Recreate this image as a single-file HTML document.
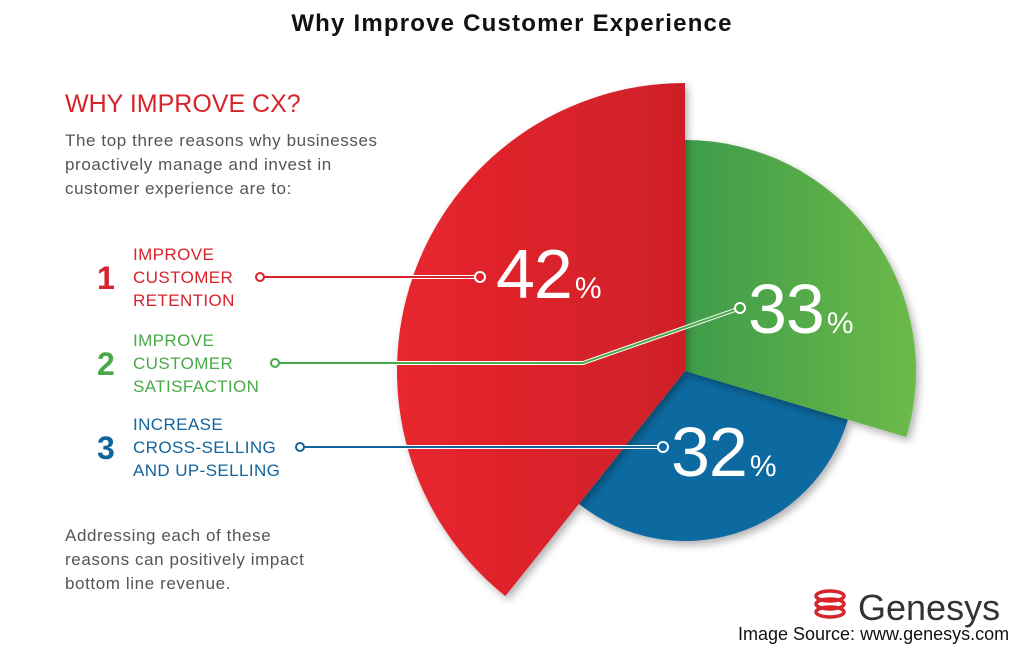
<!DOCTYPE html>
<html><head><meta charset="utf-8"><style>
body{margin:0;width:1024px;height:650px;background:#fff;overflow:hidden;font-family:"Liberation Sans",sans-serif}
</style></head><body>
<svg width="1024" height="650" viewBox="0 0 1024 650" style="position:absolute;left:0;top:0">
<defs>
<linearGradient id="gr" x1="0" x2="1"><stop offset="0" stop-color="#e8262e"/><stop offset="1" stop-color="#cf1f28"/></linearGradient>
<linearGradient id="gg" x1="0" x2="1"><stop offset="0" stop-color="#3e9b48"/><stop offset="1" stop-color="#6cba48"/></linearGradient>
<filter id="sh" x="-20%" y="-20%" width="140%" height="140%"><feDropShadow dx="3" dy="4" stdDeviation="4" flood-opacity="0.3"/></filter>
</defs>
<text x="512" y="31" text-anchor="middle" font-size="24" letter-spacing="1.2" font-weight="bold" fill="#111">Why Improve Customer Experience</text>
<text x="65" y="112" font-size="25" fill="#d7232a">WHY IMPROVE CX?</text>
<g font-size="17" letter-spacing="0.6" fill="#555">
<text x="65" y="146">The top three reasons why businesses</text>
<text x="65" y="170">proactively manage and invest in</text>
<text x="65" y="194">customer experience are to:</text>
</g>
<g font-size="17" letter-spacing="0.6" fill="#555">
<text x="65" y="541">Addressing each of these</text>
<text x="65" y="565">reasons can positively impact</text>
<text x="65" y="589">bottom line revenue.</text>
</g>
<g id="pie"></g>
<g id="labels"></g>
<g>
<g fill="none" stroke="#d7232a" stroke-width="3.5">
<ellipse cx="830" cy="596" rx="14" ry="5"/><ellipse cx="830" cy="604" rx="14" ry="5"/><ellipse cx="830" cy="612" rx="14" ry="5"/>
</g>
<text x="858" y="620" font-size="36" fill="#333">Genesys</text>
</g>
<text x="738" y="640" font-size="18" fill="#111">Image Source: www.genesys.com</text>
</svg>
<script>
const categories=["IMPROVE|CUSTOMER|RETENTION","IMPROVE|CUSTOMER|SATISFACTION","INCREASE|CROSS-SELLING|AND UP-SELLING"];
const values=[42,33,32];
const ranks=["1","2","3"];
const colors=["url(#gr)","url(#gg)","#0f6aa0"];
const lineColors=["#d7232a","#4aa948","#11659c"];
const textColors=["#d7232a","#4aa948","#11659c"];
const cx=685,cy=371;
const geo=[{a0:128.6,a1:270,r:288},{a0:270,a1:376.6,r:231},{a0:16.6,a1:128.6,r:170}];
const ns="http://www.w3.org/2000/svg";
function pt(a,r){const t=a*Math.PI/180;return [cx+r*Math.cos(t),cy+r*Math.sin(t)];}
const pie=document.getElementById('pie');
const order=[2,1,0];
order.forEach(i=>{
 const g=geo[i];const p0=pt(g.a0,g.r),p1=pt(g.a1,g.r);
 const large=(g.a1-g.a0)>180?1:0;
 const p=document.createElementNS(ns,'path');
 p.setAttribute('d',`M${cx},${cy}L${p0[0]},${p0[1]}A${g.r},${g.r} 0 ${large} 1 ${p1[0]},${p1[1]}Z`);
 p.setAttribute('fill',colors[i]);p.setAttribute('filter','url(#sh)');
 
 
 pie.appendChild(p);
});
const L=document.getElementById('labels');
const rowY=[277,363,447];
const lineStart=[260,275,300];
const circ=[[480,277],[740,308],[663,447]];
const pctPos=[[496,298],[748,333],[671,476]];
function mk(tag,attrs,parent){const e=document.createElementNS(ns,tag);for(const k in attrs)e.setAttribute(k,attrs[k]);parent.appendChild(e);return e;}
values.forEach((v,i)=>{
 const y=rowY[i];
 const n=mk('text',{x:97,y:y+12,'font-size':32,'font-weight':'bold',fill:textColors[i]},L);n.textContent=ranks[i];
 
 
 categories[i].split('|').forEach((s,j)=>{const t=mk('text',{x:133,y:y-17+j*23,'font-size':17,'letter-spacing':0.4,fill:textColors[i]},L);t.textContent=s;
  
  });
 let d=`M${lineStart[i]},${y}`;
 if(i===1)d+=`L583,${y}L${circ[i][0]-5},${circ[i][1]+2}`;else d+=`L${circ[i][0]-5},${y}`;
 mk('path',{d:d,fill:'none',stroke:'#fff','stroke-width':4},L);
 const ln=mk('path',{d:d,fill:'none',stroke:lineColors[i],'stroke-width':2},L);
 
 
 mk('circle',{cx:lineStart[i],cy:y,r:4,fill:'#fff',stroke:lineColors[i],'stroke-width':2},L);
 mk('circle',{cx:circ[i][0],cy:circ[i][1],r:5,fill:'none',stroke:'#fff','stroke-width':2},L);
 const t=mk('text',{x:pctPos[i][0],y:pctPos[i][1],fill:'#fff','font-size':70,'letter-spacing':-1},L);
 
 
 t.textContent=v;
 const ps=mk('tspan',{'font-size':30,dx:3},t);ps.textContent='%';
});
</script>
</body></html>
